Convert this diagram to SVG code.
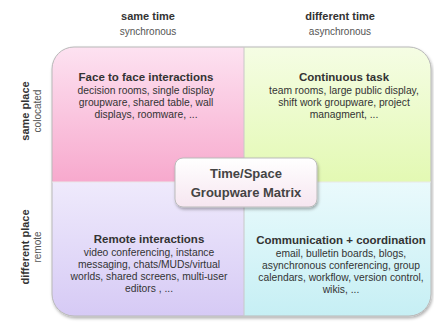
<svg xmlns="http://www.w3.org/2000/svg" width="434" height="322" viewBox="0 0 434 322">
<defs>
<linearGradient id="gPink" x1="0" y1="0" x2="0" y2="1"><stop offset="0" stop-color="#fde2f1"/><stop offset="1" stop-color="#f7a9cd"/></linearGradient>
<linearGradient id="gGreen" x1="0" y1="0" x2="0" y2="1"><stop offset="0" stop-color="#f5fde4"/><stop offset="1" stop-color="#e3f9b3"/></linearGradient>
<linearGradient id="gLav" x1="0" y1="0" x2="0" y2="1"><stop offset="0" stop-color="#efeafc"/><stop offset="1" stop-color="#d6caf5"/></linearGradient>
<linearGradient id="gCyan" x1="0" y1="0" x2="0" y2="1"><stop offset="0" stop-color="#eafafc"/><stop offset="1" stop-color="#c6eff4"/></linearGradient>
<linearGradient id="gCenter" x1="0" y1="0" x2="0" y2="1"><stop offset="0" stop-color="#ffffff"/><stop offset="1" stop-color="#f6e6f0"/></linearGradient>
<clipPath id="clipM"><rect x="52" y="47" width="379" height="269" rx="22"/></clipPath>
<filter id="sh" x="-10%" y="-10%" width="130%" height="140%"><feDropShadow dx="1" dy="2" stdDeviation="1.5" flood-color="#000" flood-opacity="0.3"/></filter>
</defs>
<style>
text{font-family:"Liberation Sans",Arial,sans-serif;fill:#333;text-anchor:middle}
.h{font-weight:bold;font-size:11px}
.s{font-size:10px;fill:#555}
.t{font-weight:bold;font-size:11.5px}
.b{font-size:10.3px}
.c{font-weight:bold;font-size:13px;fill:#444}
</style>
<rect width="434" height="322" fill="#ffffff"/>
<g id="headers">
<text class="h" x="148" y="20">same time</text>
<text class="s" x="148" y="35">synchronous</text>
<text class="h" x="340" y="20">different time</text>
<text class="s" x="340" y="35">asynchronous</text>
<text class="h" transform="translate(29,111) rotate(-90)">same place</text>
<text class="s" transform="translate(41,111) rotate(-90)">colocated</text>
<text class="h" transform="translate(29,247) rotate(-90)">different place</text>
<text class="s" transform="translate(41,247) rotate(-90)">remote</text>
</g>
<g id="matrix" filter="url(#sh)">
<g clip-path="url(#clipM)">
<rect x="52" y="47" width="192" height="135" fill="url(#gPink)"/>
<rect x="244" y="47" width="187" height="135" fill="url(#gGreen)"/>
<rect x="52" y="182" width="192" height="134" fill="url(#gLav)"/>
<rect x="244" y="182" width="187" height="134" fill="url(#gCyan)"/>
</g>
<rect x="52" y="47" width="379" height="269" rx="22" fill="none" stroke="#b8b8b8" stroke-width="1"/>
</g>
<g id="connectors">
<line x1="244" y1="47" x2="244" y2="316" stroke="#c8c8c8" stroke-width="1"/>
<line x1="52" y1="182" x2="431" y2="182" stroke="#e8e8e8" stroke-width="1"/>
</g>
<g id="q-face">
<text class="t" x="146" y="81">Face to face interactions</text>
<text class="b" x="146" y="94">decision rooms, single display</text>
<text class="b" x="146" y="106">groupware, shared table, wall</text>
<text class="b" x="146" y="118">displays, roomware, ...</text>
</g>
<g id="q-continuous">
<text class="t" x="344" y="81">Continuous task</text>
<text class="b" x="344" y="94">team rooms, large public display,</text>
<text class="b" x="344" y="106">shift work groupware, project</text>
<text class="b" x="344" y="118">managment, ...</text>
</g>
<g id="q-remote">
<text class="t" x="149" y="243">Remote interactions</text>
<text class="b" x="149" y="256">video conferencing, instance</text>
<text class="b" x="149" y="268">messaging, chats/MUDs/virtual</text>
<text class="b" x="149" y="280">worlds, shared screens, multi-user</text>
<text class="b" x="149" y="292">editors , ...</text>
</g>
<g id="q-communication">
<text class="t" x="341" y="244">Communication + coordination</text>
<text class="b" x="341" y="257">email, bulletin boards, blogs,</text>
<text class="b" x="341" y="269">asynchronous conferencing, group</text>
<text class="b" x="341" y="281">calendars, workflow, version control,</text>
<text class="b" x="341" y="293">wikis, ...</text>
</g>
<g id="center">
<rect x="175" y="158" width="142" height="49" rx="8" fill="url(#gCenter)" stroke="#bbbbbb" stroke-width="1" filter="url(#sh)"/>
<text class="c" x="246" y="178">Time/Space</text>
<text class="c" x="246" y="197">Groupware Matrix</text>
</g>
</svg>
